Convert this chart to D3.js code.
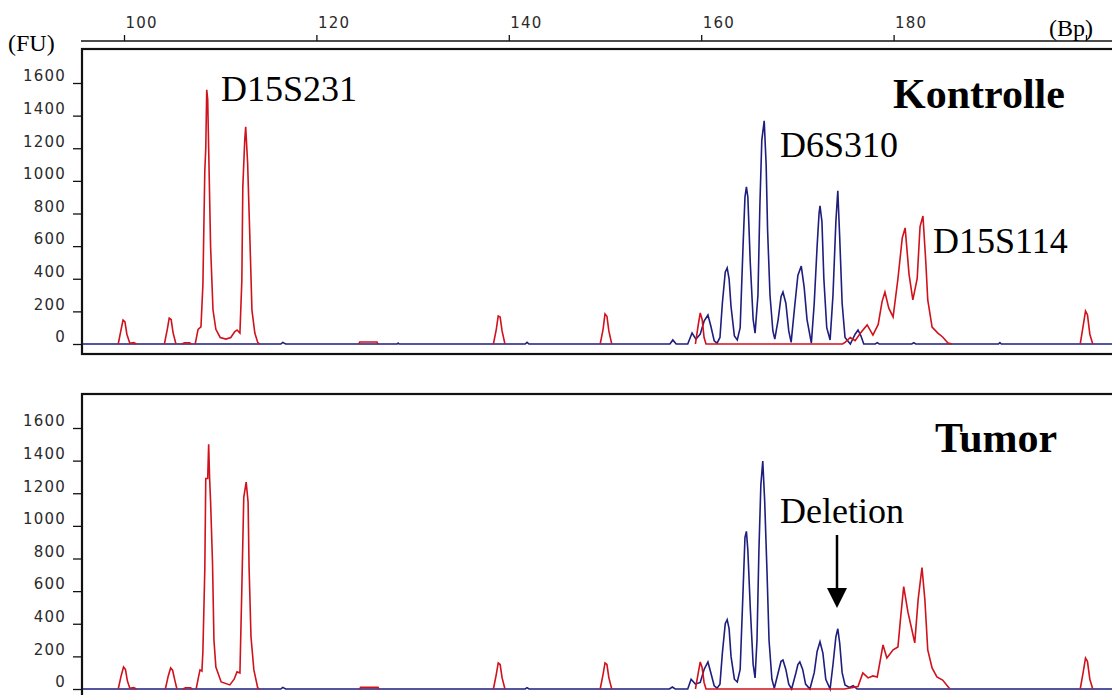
<!DOCTYPE html>
<html>
<head>
<meta charset="utf-8">
<script src="https://cdn.jsdelivr.net/npm/d3@7"></script>
<style>
  body { margin: 0; background: #fff; }
  svg { display: block; }
  .tick text { font-family: "DejaVu Sans", sans-serif; font-size: 15px; fill: #2a2a2a; letter-spacing: 1.2px; }
  .serif { font-family: "Liberation Serif", "Times New Roman", serif; fill: #000; }
</style>
</head>
<body>
<svg id="chart" width="1112" height="695"></svg>
<script>
// axis ticks
var bpTicks = [100, 120, 140, 160, 180, 200];
var fuTicks = [0, 200, 400, 600, 800, 1000, 1200, 1400, 1600];

// traces, [bp, FU], null = gap in the trace
var kontrolleRed = [
  [99.4,0],[99.7,90],[99.9,147],[100.1,135],[100.3,60],[100.6,5],[101.0,8],[101.3,0], null,
  [104.2,0],[104.5,90],[104.7,158],[104.9,150],[105.1,70],[105.4,0], null,
  [106.0,0],[106.3,8],[106.8,8],[107.0,0], null,
  [107.4,0],[107.7,90],[108.0,105],[108.2,360],[108.4,1060],[108.5,1200],[108.6,1558],[108.7,1500],
  [108.8,1200],[109.0,600],[109.25,210],[109.55,90],[110.0,40],[110.6,30],[111.1,40],[111.5,75],
  [111.75,86],[112.05,67],[112.25,390],[112.35,960],[112.55,1250],[112.65,1331],[112.85,1110],
  [113.1,620],[113.3,208],[113.6,67],[113.9,10],[114.1,0], null,
  [124.4,0],[124.5,12],[126.3,12],[126.4,0], null,
  [138.4,0],[138.7,90],[138.9,172],[139.1,165],[139.3,80],[139.6,0], null,
  [149.5,0],[149.8,90],[150.0,184],[150.2,170],[150.4,80],[150.7,0], null,
  [159.4,0],[159.7,120],[159.9,190],[160.1,150],[160.3,40],[160.5,0],[174.7,0],
  [174.95,10],[175.5,40],[176.0,20],[176.6,70],[177.25,117],[177.85,55],[178.4,120],[178.8,260],
  [179.1,319],[179.5,220],[179.95,166],[180.45,400],[180.9,650],[181.2,712],[181.6,430],[182.0,270],
  [182.45,400],[182.75,720],[183.05,785],[183.35,500],[183.55,270],[184.0,104],[184.6,67],
  [185.1,43],[185.65,6],[186.1,0], null,
  [199.4,0],[199.7,110],[199.95,202],[200.15,180],[200.4,60],[200.7,0]
];

var kontrolleBlue = [
  [95.7,0],[116.3,0],[116.5,10],[116.8,0],[128.4,0],[128.5,6],[128.6,0],[141.7,0],[141.9,10],[142.1,0],
  [156.75,0],[157.05,25],[157.4,0],[158.6,0],[159.05,67],[159.45,30],[159.9,60],[160.3,140],
  [160.7,178],[161.0,110],[161.35,20],[161.65,5],
  [161.95,40],[162.2,250],[162.5,440],[162.7,466],[162.9,400],[163.1,230],[163.45,50],[163.75,25],
  [164.05,100],[164.35,600],[164.55,900],[164.7,963],[164.85,900],[165.1,500],[165.4,150],[165.6,67],
  [165.9,300],[166.1,850],[166.3,1250],[166.55,1368],[166.75,1100],[166.9,700],[167.15,300],[167.45,80],[167.65,30],
  [168.0,150],[168.3,290],[168.5,319],[168.8,250],[169.1,80],[169.35,10],
  [169.75,250],[170.05,420],[170.4,478],[170.7,350],[171.0,150],[171.45,5],
  [171.75,250],[172.05,600],[172.25,800],[172.35,847],[172.55,750],[172.75,400],[173.05,100],[173.4,25],
  [173.7,300],[174.0,750],[174.2,939],[174.4,650],[174.65,250],[174.95,40],
  [175.5,0],[176.0,60],[176.3,86],[176.6,50],[176.9,0],
  [178.1,0],[178.3,8],[178.5,0],[181.9,0],[182.1,8],[182.3,0],[190.9,0],[191.05,8],[191.2,0],[202.7,0]
];

var tumorRed = [
  [99.4,0],[99.7,80],[99.95,135],[100.15,120],[100.35,50],[100.6,5],[101.0,8],[101.3,0], null,
  [104.3,0],[104.6,80],[104.85,129],[105.05,115],[105.3,50],[105.5,0], null,
  [106.1,0],[106.4,8],[106.9,8],[107.1,0], null,
  [107.5,0],[107.7,60],[107.9,117],[108.1,110],[108.2,228],[108.4,732],[108.5,1290],[108.7,1290],
  [108.8,1500],[108.9,1290],[109.0,1150],[109.2,775],[109.35,300],[109.55,135],[110.1,43],[111.0,25],
  [111.45,60],[111.75,105],[112.05,98],[112.25,620],[112.45,1175],[112.7,1268],[112.9,1145],
  [113.0,750],[113.2,320],[113.5,117],[113.9,6],[114.1,0], null,
  [124.5,0],[124.6,10],[126.4,10],[126.5,0], null,
  [138.4,0],[138.7,90],[138.9,160],[139.1,150],[139.3,70],[139.6,0], null,
  [149.5,0],[149.8,90],[150.0,160],[150.2,150],[150.4,70],[150.7,0], null,
  [159.4,0],[159.7,100],[159.9,166],[160.1,130],[160.3,40],[160.5,0],[174.9,0],
  [175.8,10],[176.3,15],[176.8,98],[177.35,68],[177.85,80],[178.3,74],[178.9,270],[179.3,190],
  [179.95,240],[180.45,258],[180.75,450],[181.05,628],[181.5,468],[181.9,363],[182.2,283],
  [182.55,548],[182.95,745],[183.25,548],[183.55,240],[184.0,129],[184.5,74],[185.1,55],[185.85,0], null,
  [199.4,0],[199.7,100],[199.95,190],[200.15,170],[200.4,60],[200.7,0]
];

var tumorBlue = [
  [95.7,0],[116.3,0],[116.5,10],[116.8,0],[141.7,0],[141.9,8],[142.1,0],
  [156.7,0],[157.0,12],[157.3,0],[158.6,0],[158.95,60],[159.4,30],[159.9,40],[160.3,120],
  [160.7,166],[161.0,100],[161.35,20],[161.65,5],
  [161.95,30],[162.2,220],[162.5,400],[162.7,425],[162.9,370],[163.1,200],[163.45,60],[163.75,43],
  [164.05,120],[164.35,600],[164.55,930],[164.7,966],[164.85,850],[165.1,500],[165.4,150],[165.6,68],
  [165.8,300],[166.0,850],[166.2,1250],[166.4,1397],[166.6,1150],[166.85,700],[167.05,300],[167.35,60],[167.6,5],
  [168.0,100],[168.3,170],[168.5,178],[168.8,120],[169.1,30],[169.4,0],
  [169.85,100],[170.05,150],[170.25,166],[170.55,120],[170.85,30],[171.3,0],
  [171.75,100],[172.05,230],[172.35,289],[172.65,220],[172.95,60],[173.4,0],
  [173.7,150],[174.0,320],[174.2,369],[174.4,280],[174.65,100],[174.95,25],
  [175.4,10],[175.8,20],[176.2,0],[202.7,0]
];

var panels = [
  { name: "Kontrolle", red: kontrolleRed, blue: kontrolleBlue, dy: 0 },
  { name: "Tumor", red: tumorRed, blue: tumorBlue, dy: 345 }
];

var RED = "#d0121c", NAVY = "#1e1e7e";

var svg = d3.select("#chart");
var x = d3.scaleLinear().domain([100, 200]).range([124, 1086]);
var y = d3.scaleLinear().domain([0, 1600]).range([344, 83]);

var line = d3.line()
  .defined(function(d) { return d !== null; })
  .x(function(d) { return x(d[0]); })
  .y(function(d) { return y(d[1]); });

// top bp axis
var topAxis = svg.append("g").attr("transform", "translate(0,41)")
  .call(d3.axisTop(x).tickValues(bpTicks).tickSize(6).tickSizeOuter(0)
    .tickFormat(function(d) { return d === 200 ? "" : d; }));
topAxis.select(".domain").remove();
topAxis.selectAll(".tick line").attr("stroke", "#111").attr("stroke-width", 1.3);
topAxis.selectAll(".tick text").attr("text-anchor", "start").attr("x", 1).attr("y", -13).attr("dy", 0);
topAxis.append("line").attr("x1", 81).attr("x2", 1112).attr("y1", 0).attr("y2", 0)
  .attr("stroke", "#111").attr("stroke-width", 1.6);

svg.append("text").attr("class", "serif").attr("x", 8).attr("y", 51)
  .style("font-size", "24px").text("(FU)");
svg.append("text").attr("class", "serif").attr("x", 1049).attr("y", 36)
  .style("font-size", "24px").text("(Bp)");

panels.forEach(function(p) {
  var g = svg.append("g").attr("transform", "translate(0," + p.dy + ")");

  g.append("rect").attr("x", 82).attr("y", 49).attr("width", 1050).attr("height", 305)
    .attr("fill", "#fff").attr("stroke", "#111").attr("stroke-width", 2.2);

  var yAxis = g.append("g").attr("transform", "translate(82,0)")
    .call(d3.axisLeft(y).tickValues(fuTicks).tickSize(9).tickPadding(7).tickFormat(d3.format("d")));
  yAxis.select(".domain").remove();
  yAxis.selectAll(".tick line").attr("stroke", "#111").attr("stroke-width", 1.3);
  yAxis.selectAll(".tick text").attr("dy", "-0.15em");

  g.append("path").datum(p.blue).attr("d", line)
    .attr("fill", "none").attr("stroke", NAVY).attr("stroke-width", 1.6);
  g.append("path").datum(p.red).attr("d", line)
    .attr("fill", "none").attr("stroke", RED).attr("stroke-width", 1.6);
});

// labels
svg.append("text").attr("class", "serif").attr("x", 221).attr("y", 101)
  .style("font-size", "36px").text("D15S231");
svg.append("text").attr("class", "serif").attr("x", 780).attr("y", 157)
  .style("font-size", "36px").text("D6S310");
svg.append("text").attr("class", "serif").attr("x", 933).attr("y", 253)
  .style("font-size", "36px").text("D15S114");
svg.append("text").attr("class", "serif").attr("x", 893).attr("y", 108)
  .style("font-size", "42px").style("font-weight", "bold").text("Kontrolle");
svg.append("text").attr("class", "serif").attr("x", 935).attr("y", 452)
  .style("font-size", "42px").style("font-weight", "bold").text("Tumor");
svg.append("text").attr("class", "serif").attr("x", 780).attr("y", 523)
  .style("font-size", "36px").text("Deletion");

// deletion arrow
svg.append("line").attr("x1", 837).attr("x2", 837).attr("y1", 535).attr("y2", 590)
  .attr("stroke", "#000").attr("stroke-width", 2.5);
svg.append("path").attr("d", "M827,588 L847,588 L837,608 Z").attr("fill", "#000");
</script>
</body>
</html>
